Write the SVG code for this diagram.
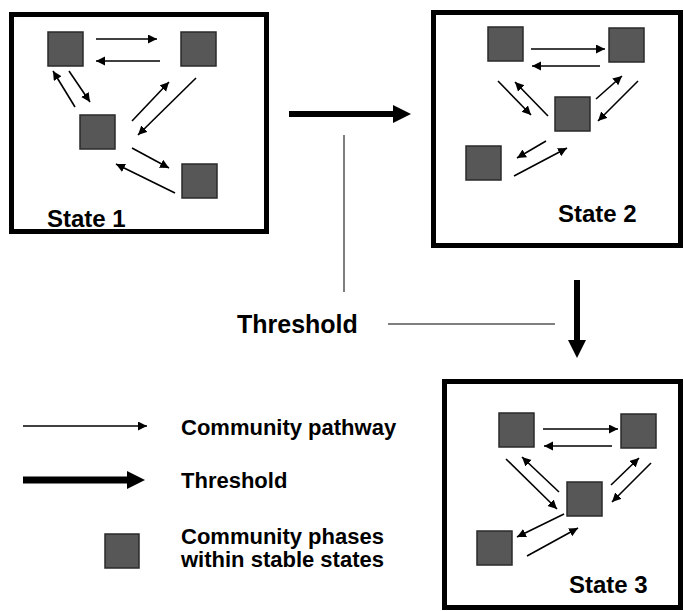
<svg xmlns="http://www.w3.org/2000/svg" width="684" height="611" viewBox="0 0 684 611">
<defs>
<style>
.box{fill:#fff;stroke:#000;stroke-width:5}
.sq{fill:#575757;stroke:#2a2a2a;stroke-width:1.5}
.path{stroke:#000;stroke-width:1.6;fill:none;marker-end:url(#ah)}
.thick{stroke:#000;fill:none;marker-end:url(#th)}
.guide{stroke:#555;stroke-width:1.5;fill:none}
.t{font-family:"Liberation Sans",Arial,sans-serif;font-weight:bold;fill:#000}
</style>
<marker id="ah" markerUnits="userSpaceOnUse" markerWidth="10" markerHeight="10" refX="9" refY="4.5" orient="auto">
<path d="M0,0 L9,4.5 L0,9 Z" fill="#000"/>
</marker>
<marker id="th" markerUnits="userSpaceOnUse" markerWidth="20" markerHeight="20" refX="0" refY="9" orient="auto">
<path d="M0,0 L18,9 L0,18 Z" fill="#000"/>
</marker>
</defs>
<rect width="684" height="611" fill="#fff"/>

<g id="state1">
<rect class="box" x="11.5" y="14.5" width="255" height="217"/>
<rect class="sq" x="48" y="32" width="35" height="34"/>
<rect class="sq" x="181" y="32" width="35" height="34"/>
<rect class="sq" x="80" y="115" width="35" height="34"/>
<rect class="sq" x="182" y="164" width="35" height="34"/>
<text class="t" x="47" y="227" font-size="24">State 1</text>
</g>

<g id="state2">
<rect class="box" x="433.5" y="12.5" width="247" height="233"/>
<rect class="sq" x="488" y="27" width="35" height="34"/>
<rect class="sq" x="609" y="28" width="35" height="34"/>
<rect class="sq" x="555" y="97" width="35" height="34"/>
<rect class="sq" x="466" y="146" width="35" height="34"/>
<text class="t" x="558" y="222" font-size="24">State 2</text>
</g>

<g id="state3">
<rect class="box" x="444.5" y="381.5" width="236" height="226"/>
<rect class="sq" x="499" y="413" width="35" height="34"/>
<rect class="sq" x="621" y="414" width="35" height="34"/>
<rect class="sq" x="567" y="482" width="35" height="34"/>
<rect class="sq" x="477" y="531" width="35" height="34"/>
<text class="t" x="569" y="593" font-size="24">State 3</text>
</g>

<g id="threshold-label">
<text class="t" x="237" y="333" font-size="25">Threshold</text>
</g>

<g id="legend">
<text class="t" x="181" y="435" font-size="22">Community pathway</text>
<text class="t" x="181" y="488" font-size="22">Threshold</text>
<rect class="sq" x="105" y="534" width="34" height="34"/>
<text class="t" x="181" y="544" font-size="22">Community phases</text>
<text class="t" x="181" y="567" font-size="22">within stable states</text>
</g>

<g id="connectors">
<!-- state 1 -->
<line class="path" x1="96" y1="39" x2="157" y2="39"/>
<line class="path" x1="160" y1="61" x2="96" y2="61"/>
<line class="path" x1="69" y1="71" x2="90" y2="102"/>
<line class="path" x1="75" y1="107" x2="53" y2="71"/>
<line class="path" x1="132" y1="121" x2="169" y2="82"/>
<line class="path" x1="196" y1="78" x2="138" y2="135"/>
<line class="path" x1="132" y1="148" x2="169" y2="168"/>
<line class="path" x1="175" y1="193" x2="116" y2="164"/>
<!-- state 2 -->
<line class="path" x1="531" y1="49" x2="605" y2="49"/>
<line class="path" x1="600" y1="66" x2="532" y2="66"/>
<line class="path" x1="498" y1="81" x2="531" y2="115"/>
<line class="path" x1="548" y1="116" x2="515" y2="82"/>
<line class="path" x1="596" y1="99" x2="622" y2="76"/>
<line class="path" x1="638" y1="81" x2="598" y2="121"/>
<line class="path" x1="546" y1="141" x2="517" y2="158"/>
<line class="path" x1="514" y1="176" x2="567" y2="148"/>
<!-- state 3 -->
<line class="path" x1="543" y1="429" x2="618" y2="429"/>
<line class="path" x1="612" y1="446" x2="544" y2="446"/>
<line class="path" x1="506" y1="459" x2="557" y2="509"/>
<line class="path" x1="559" y1="492" x2="522" y2="457"/>
<line class="path" x1="611" y1="485" x2="639" y2="458"/>
<line class="path" x1="651" y1="463" x2="612" y2="502"/>
<line class="path" x1="564" y1="514" x2="517" y2="537"/>
<line class="path" x1="527" y1="556" x2="578" y2="528"/>
<!-- thresholds -->
<line class="thick" x1="289" y1="114" x2="393" y2="114" stroke-width="6"/>
<line class="thick" x1="577" y1="280" x2="577" y2="340" stroke-width="6"/>
<!-- guides -->
<line class="guide" x1="344" y1="135" x2="344" y2="292"/>
<line class="guide" x1="388" y1="324" x2="555" y2="324"/>
<!-- legend -->
<line class="path" x1="23" y1="426" x2="147" y2="426"/>
<line class="thick" x1="23" y1="480" x2="127" y2="480" stroke-width="7"/>
</g>
</svg>
